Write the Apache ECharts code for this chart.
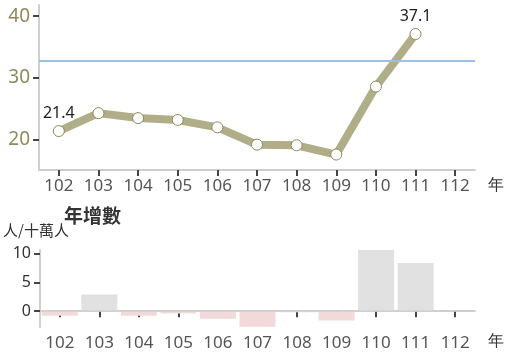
<!DOCTYPE html>
<html>
<head>
<meta charset="utf-8">
<script src="https://cdn.jsdelivr.net/npm/echarts@6/dist/echarts.min.js"></script>
<style>
  html, body { margin: 0; padding: 0; background: #fff; }
  #chart { width: 506px; height: 352px; }
</style>
</head>
<body>
<div id="chart"></div>
<script>
// 年份（民國）
var years = ['102', '103', '104', '105', '106', '107', '108', '109', '110', '111', '112'];
// 每十萬人 比率
var rates = [21.4, 24.3, 23.5, 23.2, 22.0, 19.2, 19.1, 17.6, 28.6, 37.1, null];
// 年增數
var growth = [-0.8, 2.9, -0.8, -0.4, -1.3, -2.7, -0.2, -1.6, 11.0, 8.4, null];
// 參考線
var refValue = 32.7;
var topTicks = [20, 30, 40];
var bottomTicks = [0, 5, 10];

var olive = '#b0ae88';
var cjkFont = '"Noto Sans CJK TC", "Noto Sans", sans-serif';
var numFont = '"Noto Sans", sans-serif';

var chart = echarts.init(document.getElementById('chart'));

var xCommon = {
  type: 'category',
  data: years,
  boundaryGap: true,
  axisLine: { show: true, lineStyle: { color: '#cfcfcf', width: 2 } },
  axisTick: { show: true, alignWithLabel: true, length: 6, lineStyle: { color: '#444', width: 2 } },
  axisLabel: { color: '#555', fontSize: 17, margin: 8, fontFamily: numFont },
  splitLine: { show: false }
};

var option = {
  backgroundColor: '#fff',
  animation: false,
  textStyle: { fontFamily: cjkFont },
  title: [{
    text: '年增數',
    left: 59, top: 201,
    textStyle: { fontSize: 19, fontWeight: 'bold', color: '#333', fontFamily: cjkFont }
  }],
  graphic: [
    { type: 'text', left: 488, top: 178, style: { text: '年', fontSize: 16, fill: '#333', font: '16px ' + cjkFont } },
    { type: 'text', left: 488, top: 334, style: { text: '年', fontSize: 16, fill: '#333', font: '16px ' + cjkFont } }
  ],
  grid: [
    { left: 39, right: 31, top: 5, height: 165 },
    { left: 39, right: 31, top: 250, height: 77 }
  ],
  xAxis: [
    Object.assign({}, xCommon, { gridIndex: 0 }),
    Object.assign({}, xCommon, { gridIndex: 1 })
  ],
  yAxis: [{
    gridIndex: 0,
    type: 'value',
    min: 15.1, max: 41.8,
    axisLine: { show: true, lineStyle: { color: '#cfcfcf', width: 2 } },
    axisTick: { show: true, customValues: topTicks, length: 6, lineStyle: { color: '#444', width: 2 } },
    axisLabel: { customValues: topTicks, color: '#8f8a5a', fontSize: 19, margin: 9, fontFamily: numFont },
    splitLine: { show: false }
  }, {
    gridIndex: 1,
    type: 'value',
    min: -2.75, max: 10.65,
    name: '人/十萬人',
    nameLocation: 'end',
    nameGap: 12,
    nameTextStyle: { color: '#333', fontSize: 15, align: 'left', padding: [0, 0, 0, -37] },
    axisLine: { show: true, lineStyle: { color: '#cfcfcf', width: 2 } },
    axisTick: { show: true, customValues: bottomTicks, length: 6, lineStyle: { color: '#444', width: 2 } },
    axisLabel: { customValues: bottomTicks, color: '#333', fontSize: 16, margin: 9, fontFamily: numFont },
    splitLine: { show: false }
  }],
  series: [{
    type: 'line',
    xAxisIndex: 0, yAxisIndex: 0,
    data: rates,
    lineStyle: { color: olive, width: 8 },
    symbol: 'circle',
    symbolSize: 11,
    itemStyle: { color: '#fff', borderColor: '#8e8b5c', borderWidth: 1 },
    label: {
      show: true,
      position: 'top',
      distance: 4,
      color: '#222',
      fontSize: 16,
      fontFamily: numFont,
      formatter: function (p) {
        return (p.dataIndex === 0 || p.dataIndex === 9) ? p.value.toFixed(1) : '';
      }
    },
    markLine: {
      silent: true,
      symbol: 'none',
      label: { show: false },
      lineStyle: { color: '#9dbfe3', width: 2, type: 'solid' },
      data: [{ yAxis: refValue }]
    },
    z: 3
  }, {
    type: 'bar',
    xAxisIndex: 1, yAxisIndex: 1,
    data: growth.map(function (v) {
      return { value: v, itemStyle: { color: v < 0 ? '#f2dada' : '#e1e1e1' } };
    }),
    barWidth: 36,
    markLine: {
      silent: true,
      symbol: 'none',
      label: { show: false },
      lineStyle: { color: '#cfcfcf', width: 1.5, type: 'solid' },
      data: [{ yAxis: 0 }]
    }
  }]
};

chart.setOption(option);
</script>
</body>
</html>
